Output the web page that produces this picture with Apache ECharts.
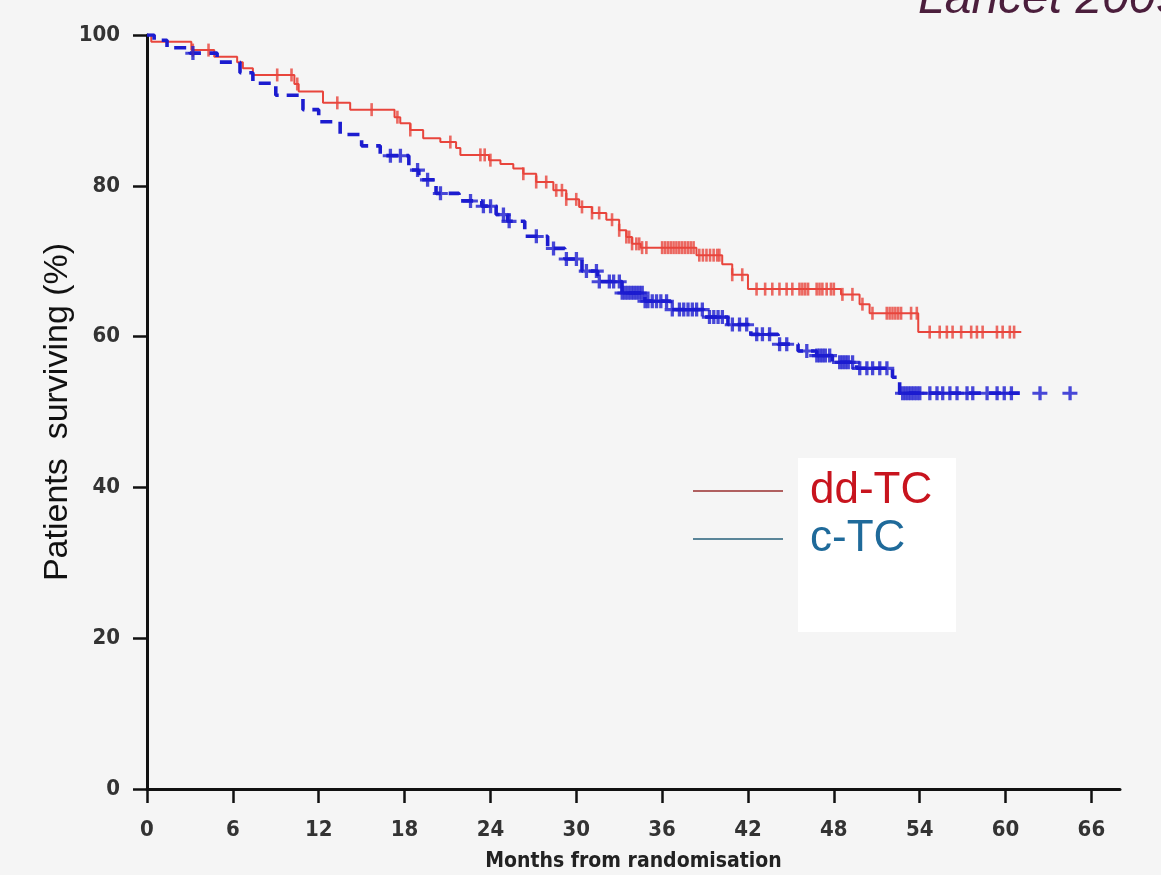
<!DOCTYPE html>
<html>
<head>
<meta charset="utf-8">
<script src="https://cdn.jsdelivr.net/npm/echarts@6/dist/echarts.min.js"></script>
<style>
html,body{margin:0;padding:0;background:#f5f5f5;}
#chart{width:1161px;height:875px;}
</style>
</head>
<body>
<div id="chart"></div>
<script>
// ---- Data (months, % surviving) ----
const seriesNames = ['dd-TC', 'c-TC'];

const xTickValues = [0, 6, 12, 18, 24, 30, 36, 42, 48, 54, 60, 66];

const ddTCCurve = [
  [0,100],[0.3,99.1],[3.1,98.0],[4.7,97.1],[6.3,96.4],[6.7,95.6],[7.4,94.7],
  [10.3,93.5],[10.6,92.5],[12.3,91.0],[14.2,90.1],[17.3,89.1],[17.7,88.3],
  [18.4,87.4],[19.3,86.3],[20.5,85.8],[21.6,85.0],[21.9,84.1],[23.9,83.4],
  [24.7,82.9],[25.6,82.3],[26.3,81.6],[27.2,80.5],[28.4,79.4],[29.3,78.2],
  [30.2,77.2],[31.1,76.4],[32.1,75.5],[33.0,74.1],[33.5,73.2],[33.9,72.3],
  [34.5,71.8],[38.4,70.8],[40.2,69.6],[40.9,68.2],[42.0,66.3],[48.5,65.6],
  [49.8,64.3],[50.5,63.1],[53.9,60.6],[61.1,60.6]
];

const cTCCurve = [
  [0,100],[0.5,99.3],[1.4,98.3],[3.0,97.6],[4.9,96.4],[6.5,95.0],[7.4,93.6],
  [9.0,92.0],[10.9,90.1],[12.0,88.5],[13.5,86.8],[15.0,85.3],[16.3,84.0],
  [18.3,82.1],[19.0,80.8],[20.2,79.0],[21.8,78.0],[23.4,77.3],[24.4,76.2],
  [25.2,75.3],[26.4,73.3],[28.0,71.7],[29.2,70.3],[30.4,68.7],[31.5,67.3],
  [33.2,65.8],[34.8,64.7],[36.6,63.6],[38.9,62.6],[40.6,61.6],[42.2,60.3],
  [44.1,59.0],[45.5,58.1],[46.8,57.5],[47.9,56.6],[49.6,55.8],[52.1,54.6],
  [52.6,52.5],[61.0,52.5]
];

const ddTCCensored = [
  3.2,4.3,9.1,10.1,10.5,13.3,15.7,17.5,18.4,21.2,23.3,23.6,24.0,26.3,27.2,27.9,
  28.6,29.0,29.3,30.0,30.4,31.1,31.6,32.5,33.0,33.5,33.7,33.9,34.2,34.4,34.6,34.9,
  36.0,36.2,36.4,36.6,36.8,37.0,37.2,37.4,37.6,37.8,38.0,38.2,
  38.6,38.85,39.1,39.35,39.6,39.85,40.0,40.9,41.6,42.6,43.2,43.7,44.2,44.7,45.1,
  45.6,45.8,46.0,46.2,46.8,47.0,47.2,47.5,47.8,48.0,48.6,49.3,50.0,50.7,
  51.7,51.9,52.1,52.3,52.5,52.7,53.4,53.8,
  54.7,55.4,55.9,56.3,56.9,57.6,58.0,58.4,59.4,59.8,60.3,60.6
];

const cTCCensored = [
  3.2,17.0,17.7,18.9,19.6,20.5,22.6,23.5,24.0,24.9,25.3,27.2,28.4,29.3,30.0,30.7,
  31.4,31.6,32.3,32.6,33.0,33.2,33.4,33.6,33.8,34.0,34.2,34.4,34.6,34.8,35.0,35.3,
  35.6,35.9,36.3,36.7,37.2,37.5,37.8,38.1,38.4,38.8,39.3,39.6,39.9,40.2,40.9,41.4,
  41.9,42.6,43.0,43.5,44.2,44.7,46.1,46.8,47.0,47.2,47.4,47.7,48.4,48.6,48.8,49.0,
  49.3,49.8,50.3,50.7,51.2,51.7,52.8,53.0,53.2,53.4,53.6,53.8,54.0,54.7,55.2,55.6,
  56.1,56.6,57.3,57.7,58.7,59.4,59.9,60.4,62.4,64.5
];

// survival value of a step curve at time t (Kaplan-Meier lookup)
function survivalAt(curve, t) {
  let v = curve[0][1];
  for (const p of curve) { if (p[0] <= t) v = p[1]; else break; }
  return v;
}

const RED = '#e8453c';
const BLUE = '#1c1ccf';
const tickFont = "'DejaVu Sans Condensed','Liberation Sans Narrow','Liberation Sans',sans-serif";

const chart = echarts.init(document.getElementById('chart'), null, {renderer: 'canvas'});

const option = {
  backgroundColor: '#f5f5f5',
  animation: false,
  grid: {left: 147, right: 41, top: 35, bottom: 86, containLabel: false, outerBoundsMode: 'none'},
  xAxis: {
    type: 'value', min: 0, max: 68,
    name: 'Months from randomisation',
    nameLocation: 'middle', nameGap: 62, nameMoveOverlap: false,
    nameTextStyle: {fontFamily: tickFont, fontWeight: 'bold', fontSize: 21, color: '#222'},
    axisLine: {show: true, onZero: false, lineStyle: {color: '#111', width: 3}},
    axisTick: {show: true, length: 14, lineStyle: {color: '#111', width: 2.5}, customValues: xTickValues},
    axisLabel: {margin: 30, fontFamily: tickFont, fontWeight: 'bold', fontSize: 22, color: '#333', customValues: xTickValues},
    splitLine: {show: false}
  },
  yAxis: {
    type: 'value', min: 0, max: 100, interval: 20,
    name: 'Patients  surviving (%)',
    nameLocation: 'middle', nameGap: 72, nameRotate: 90, nameMoveOverlap: false,
    nameTextStyle: {fontFamily: "'Liberation Sans',Arial,sans-serif", fontSize: 34, color: '#111'},
    axisLine: {show: true, lineStyle: {color: '#111', width: 3}},
    axisTick: {show: true, length: 14, lineStyle: {color: '#111', width: 2.5}},
    axisLabel: {margin: 27, fontFamily: tickFont, fontWeight: 'bold', fontSize: 22, color: '#333'},
    splitLine: {show: false}
  },
  legend: {
    orient: 'vertical', left: 688, top: 464,
    itemWidth: 90, itemHeight: 14, itemGap: 4,
    textStyle: {fontFamily: "'Liberation Sans',Arial,sans-serif", fontSize: 44, padding: [0, 0, 0, 22]},
    data: [
      {name: seriesNames[0], icon: 'path://M0,0H90V2H0Z', itemStyle: {color: '#b06060'}, lineStyle: {color: '#b06060', width: 2, type: 'solid'}, textStyle: {color: '#c8141e'}},
      {name: seriesNames[1], icon: 'path://M0,0H90V2H0Z', itemStyle: {color: '#5a8599'}, lineStyle: {color: '#5a8599', width: 2, type: 'solid'}, textStyle: {color: '#1f6a9a'}}
    ]
  },
  graphic: [
    {type: 'rect', shape: {x: 798, y: 458, width: 158, height: 174}, style: {fill: '#ffffff'}, z: -1, silent: true},
    {type: 'text', x: 918, y: 24, style: {text: 'Lancet 2009', font: "italic 48px 'Liberation Sans', Arial, sans-serif", fill: '#4b1e3c', verticalAlign: 'bottom'}, silent: true}
  ],
  series: [
    {
      name: seriesNames[0], type: 'line', step: 'end', symbol: 'none',
      lineStyle: {color: RED, width: 2}, itemStyle: {color: RED},
      data: ddTCCurve, z: 3
    },
    {
      name: seriesNames[1], type: 'line', step: 'end', symbol: 'none',
      lineStyle: {color: BLUE, width: 3.6, type: [12, 8]}, itemStyle: {color: BLUE},
      data: cTCCurve, z: 3
    },
    {
      name: seriesNames[0] + ' censored', type: 'scatter',
      symbol: 'rect', symbolSize: [2.6, 13],
      itemStyle: {color: RED}, z: 4,
      data: ddTCCensored.map(t => [t, survivalAt(ddTCCurve, t)])
    },
    {
      name: seriesNames[1] + ' censored', type: 'scatter',
      symbol: 'path://M4,0H6.2V4H10V6.2H6.2V10H4V6.2H0V4H4Z', symbolKeepAspect: false, symbolSize: [15, 14],
      itemStyle: {color: BLUE}, z: 4,
      data: cTCCensored.map(t => [t, survivalAt(cTCCurve, t)])
    }
  ]
};
chart.setOption(option);
</script>
</body>
</html>
